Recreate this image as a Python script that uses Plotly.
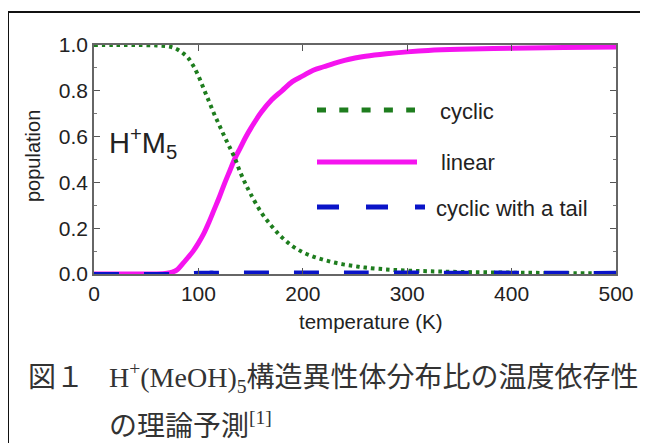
import plotly.graph_objects as go

# ---- data ----
temperature = [0, 20, 40, 60, 70, 75, 80, 85, 90, 95, 100, 105, 110, 115, 120, 125, 130, 135,
               140, 145, 150, 160, 170, 180, 190, 200, 210, 220, 230, 240, 250, 260, 280, 300,
               320, 350, 400, 450, 500]
cyclic = [1.0, 1.0, 1.0, 0.998, 0.995, 0.99, 0.98, 0.965, 0.945, 0.91, 0.865, 0.81, 0.755, 0.70,
          0.65, 0.60, 0.553, 0.505, 0.445, 0.395, 0.35, 0.27, 0.21, 0.16, 0.122, 0.095, 0.076,
          0.062, 0.05, 0.041, 0.034, 0.028, 0.02, 0.015, 0.012, 0.009, 0.006, 0.004, 0.003]
linear = [0.0, 0.0, 0.0, 0.0, 0.003, 0.008, 0.02, 0.045, 0.072, 0.10, 0.135, 0.175, 0.225, 0.28,
          0.335, 0.395, 0.45, 0.505, 0.55, 0.595, 0.635, 0.705, 0.76, 0.80, 0.84, 0.865, 0.89,
          0.905, 0.92, 0.933, 0.943, 0.951, 0.962, 0.97, 0.976, 0.981, 0.986, 0.989, 0.991]
tail = [0.0, 0.0, 0.0, 0.0, 0.0, 0.0, 0.001, 0.002, 0.003, 0.004, 0.005, 0.005, 0.006, 0.006,
        0.006, 0.007, 0.007, 0.007, 0.007, 0.007, 0.007, 0.007, 0.007, 0.007, 0.007, 0.007,
        0.007, 0.007, 0.007, 0.007, 0.007, 0.007, 0.007, 0.007, 0.006, 0.006, 0.006, 0.005, 0.005]

x_ticks = [0, 100, 200, 300, 400, 500]
y_ticks = [0.0, 0.2, 0.4, 0.6, 0.8, 1.0]
y_ticklabels = ["0.0", "0.2", "0.4", "0.6", "0.8", "1.0"]

legend_names = ["cyclic", "linear", "cyclic with a tail"]
caption_fig = "図１"
caption_line1 = "H<sup>+</sup>(MeOH)<sub>5</sub>構造異性体分布比の温度依存性"
caption_line2 = "の理論予測<sup>[1]</sup>"
label_text = "H<sup>+</sup>M<sub>5</sub>"

GREEN = "#1e7d1e"
MAGENTA = "#f514ef"
BLUE = "#0a14c8"
SANS = "Liberation Sans, Arial, sans-serif"
SERIF = "Liberation Serif, Noto Sans CJK JP, serif"

# page body has an 8px default margin: work in window pixels and shift
OFF = 8
W, H = 648 - OFF, 443 - OFF
L, R, T, B = 94 - OFF, 32, 45 - OFF, 443 - 274
pw, ph = W - L - R, H - T - B


def px(x):
    return (x - OFF - L) / pw


def py(y):
    return (T + ph - (y - OFF)) / ph


fig = go.Figure()
fig.add_trace(go.Scatter(x=temperature, y=linear, mode="lines", name=legend_names[1],
                         line=dict(color=MAGENTA, width=5, shape="spline"), showlegend=False))
fig.add_trace(go.Scatter(x=temperature, y=cyclic, mode="lines", name=legend_names[0],
                         line=dict(color=GREEN, width=4, dash="3.5px,4px", shape="spline"),
                         showlegend=False))
fig.add_trace(go.Scatter(x=temperature, y=tail, mode="lines", name=legend_names[2],
                         line=dict(color=BLUE, width=4, dash="25px,25px", shape="spline"),
                         showlegend=False))

shapes = [
    # outer frame
    dict(type="rect", xref="paper", yref="paper", x0=px(8), x1=px(670), y0=py(480), y1=py(12),
         line=dict(color="#111", width=2), fillcolor="rgba(0,0,0,0)", layer="above"),
    # legend samples
    dict(type="line", xref="paper", yref="paper", x0=px(317), x1=px(415), y0=py(110), y1=py(110),
         line=dict(color=GREEN, width=5, dash="9px,13.3px")),
    dict(type="line", xref="paper", yref="paper", x0=px(317), x1=px(417), y0=py(162), y1=py(162),
         line=dict(color=MAGENTA, width=5)),
    dict(type="line", xref="paper", yref="paper", x0=px(317), x1=px(425), y0=py(207), y1=py(207),
         line=dict(color=BLUE, width=5, dash="22px,27px")),
]

ann = [
    dict(text=legend_names[0], x=px(438), y=py(111), xanchor="left", yanchor="middle",
         font=dict(family=SANS, size=22, color="#222")),
    dict(text=legend_names[1], x=px(439), y=py(162), xanchor="left", yanchor="middle",
         font=dict(family=SANS, size=22, color="#222")),
    dict(text=legend_names[2], x=px(434), y=py(208), xanchor="left", yanchor="middle",
         font=dict(family=SANS, size=22, color="#222")),
    dict(text=label_text, x=px(107), y=py(143), xanchor="left", yanchor="middle",
         font=dict(family=SANS, size=29, color="#222")),
    dict(text="population", x=px(33), y=py(156), xanchor="center", yanchor="middle",
         textangle=-90, font=dict(family=SANS, size=20, color="#222")),
    dict(text="temperature (K)", x=px(371), y=py(321), xanchor="center", yanchor="middle",
         font=dict(family=SANS, size=20.5, color="#222")),
    dict(text=caption_fig, x=px(26), y=py(377), xanchor="left", yanchor="middle",
         font=dict(family=SERIF, size=28, color="#333")),
    dict(text=caption_line1, x=px(107), y=py(377), xanchor="left", yanchor="middle",
         font=dict(family=SERIF, size=28, color="#333")),
    dict(text=caption_line2, x=px(107), y=py(424), xanchor="left", yanchor="middle",
         font=dict(family=SERIF, size=28, color="#333")),
]
for a in ann:
    a.update(xref="paper", yref="paper", showarrow=False)

fig.update_layout(
    width=W, height=H,
    margin=dict(l=L, r=R, t=T, b=B, pad=0),
    paper_bgcolor="white", plot_bgcolor="white",
    shapes=shapes, annotations=ann,
    xaxis=dict(range=[0, 500], tickvals=x_ticks, ticks="inside", ticklen=6, tickwidth=1.2,
               tickcolor="#555", showline=True, linecolor="#666", linewidth=1.5, mirror="ticks",
               showgrid=False, zeroline=False,
               tickfont=dict(family=SANS, size=21, color="#222")),
    yaxis=dict(range=[0, 1.0], tickvals=y_ticks, ticktext=y_ticklabels, ticks="inside",
               ticklen=6, tickwidth=1.2, tickcolor="#555", showline=True, linecolor="#666",
               linewidth=1.5, mirror="ticks", showgrid=False, zeroline=False,
               minor=dict(dtick=0.1, ticks="inside", ticklen=3, tickcolor="#777"),
               tickfont=dict(family=SANS, size=21, color="#222")),
)

fig.write_html("out.html")
